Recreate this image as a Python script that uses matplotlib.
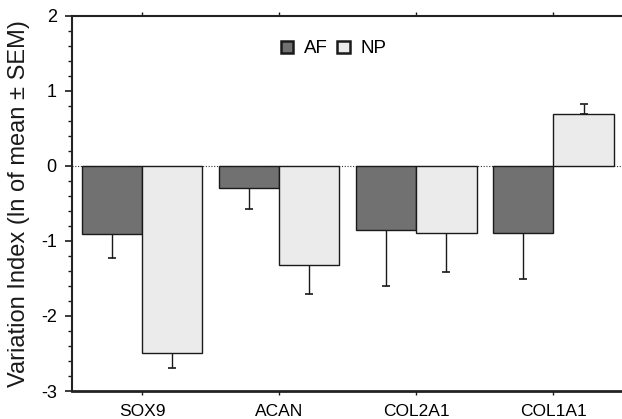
import matplotlib
matplotlib.use("Agg")
import matplotlib.pyplot as plt
import numpy as np
from matplotlib.patches import Patch
from matplotlib.ticker import MultipleLocator

plt.rcParams['font.family'] = ['Liberation Sans', 'DejaVu Sans']
plt.rcParams['axes.unicode_minus'] = False

categories = ["SOX9", "ACAN", "COL2A1", "COL1A1"]
af_values = [-0.91, -0.29, -0.85, -0.89]
af_sem = [0.32, 0.28, 0.75, 0.62]
np_values = [-2.50, -1.32, -0.89, 0.69]
np_sem = [0.19, 0.39, 0.53, 0.14]
series_names = ["AF", "NP"]

af_color = "#717171"
np_color = "#ebebeb"
edge = "#1a1a1a"

fig = plt.figure(figsize=(6.22, 4.19), dpi=100)
ax = fig.add_axes([72/622, 28/419, 550/622, 375/419])

x = np.arange(len(categories))
w = 0.44

def one_sided(vals, sems):
    lower = [s if v < 0 else 0 for v, s in zip(vals, sems)]
    upper = [s if v >= 0 else 0 for v, s in zip(vals, sems)]
    return [lower, upper]

ax.bar(x - w/2, af_values, width=w, color=af_color, edgecolor=edge, linewidth=1.0, zorder=3)
ax.bar(x + w/2, np_values, width=w, color=np_color, edgecolor=edge, linewidth=1.0, zorder=3)
ax.errorbar(x - w/2, af_values, yerr=one_sided(af_values, af_sem), fmt='none',
            ecolor=edge, elinewidth=1.0, capsize=3, capthick=1.2, zorder=2)
ax.errorbar(x + w/2, np_values, yerr=one_sided(np_values, np_sem), fmt='none',
            ecolor=edge, elinewidth=1.0, capsize=3, capthick=1.2, zorder=2)

ax.axhline(0, color="#333333", linestyle=(0, (1, 1.5)), linewidth=0.8, zorder=1)

ax.set_xlim(-0.51, 3.5)
ax.set_ylim(-3, 2)
ax.set_xticks(x)
ax.set_xticklabels(categories, fontsize=12.5)
ax.yaxis.set_major_locator(MultipleLocator(1))
ax.yaxis.set_minor_locator(MultipleLocator(0.2))
ax.tick_params(axis='y', which='major', direction='out', length=5, width=1.2, labelsize=13, pad=6, color=edge)
ax.tick_params(axis='y', which='minor', direction='out', length=3, width=1.0, color=edge)
ax.tick_params(axis='x', which='major', direction='out', length=3, width=1.0, labelsize=12.5,
               top=True, pad=6, color=edge)
ax.set_ylabel("Variation Index (ln of mean \u00b1 SEM)", fontsize=17, labelpad=8, color="#1a1a1a")

ax.spines['right'].set_visible(False)
ax.spines['left'].set_linewidth(1.5)
ax.spines['top'].set_linewidth(1.5)
ax.spines['bottom'].set_linewidth(2.0)
for s in ax.spines.values():
    s.set_color("#222222")

handles = [Patch(facecolor=af_color, edgecolor=edge, linewidth=1.8),
           Patch(facecolor=np_color, edgecolor=edge, linewidth=1.8)]
ax.legend(handles, series_names, loc='center', bbox_to_anchor=(0.476, 0.912), ncol=2,
          frameon=False, fontsize=13.5, handlelength=0.65, handleheight=0.65,
          handletextpad=0.6, columnspacing=0.5, borderpad=0)

fig.savefig("out.png", dpi=100)
